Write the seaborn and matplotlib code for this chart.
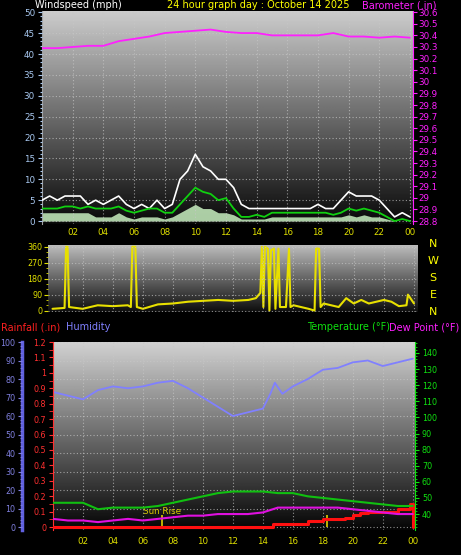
import numpy as np
import matplotlib
matplotlib.use("Agg")
import matplotlib.pyplot as plt
from matplotlib.ticker import MultipleLocator, FixedLocator
import seaborn as sns

sns.set_style("dark")
plt.rcParams['font.family'] = ['DejaVu Sans']

# ---------------- data ----------------
wind_t = [i * 0.5 for i in range(49)]
gust = [5, 6, 5, 6, 6, 6, 4, 5, 4, 5, 6, 4, 3, 4, 3, 5, 3, 4, 10, 12, 16, 13, 12, 10, 10, 8, 4, 3, 3, 3, 3, 3, 3, 3, 3, 3, 4, 3, 3, 5, 7, 6, 6, 6, 5, 3, 1, 2, 1]
avg = [3, 3, 3, 3.5, 3.5, 3, 3.5, 3, 3, 3, 3.5, 2.5, 2, 2.5, 3, 3, 2, 2, 4, 6, 8, 7, 6.5, 5, 5.5, 3, 1, 1, 1.5, 1, 2, 2, 2, 2, 2, 2, 2, 2, 1.5, 2, 3, 2.5, 3, 2.5, 2, 1, 0, 0.5, 0]
lull = [2, 2, 2, 2, 2, 2, 2, 1, 1, 1, 2, 1, 0.5, 1, 1, 1, 0.5, 1, 2, 3, 4, 3, 3, 2, 2, 1.5, 0.5, 0.5, 0.5, 0.5, 1, 1, 1, 1, 1, 1, 1, 1, 1, 1, 1.5, 1, 1.5, 1, 1, 0.5, 0, 0, 0]

baro_t = list(range(25))
baro = [30.29, 30.29, 30.30, 30.31, 30.31, 30.35, 30.37, 30.39, 30.42, 30.43, 30.44, 30.45, 30.43, 30.42, 30.42, 30.40, 30.40, 30.40, 30.40, 30.42, 30.39, 30.39, 30.38, 30.39, 30.38]

dir_t = [0, 0.8, 0.9, 1.0, 1.1, 2, 3, 4, 5, 5.2, 5.3, 5.5, 5.6, 6, 7, 8, 9, 10, 11, 12, 13, 13.5, 13.8, 13.9, 14.0, 14.1, 14.3, 14.4, 14.5, 14.7, 14.8, 15.0, 15.1, 15.5, 15.7, 15.8, 16, 17, 17.4, 17.5, 17.7, 17.8, 18, 19, 19.5, 20, 20.5, 21, 22, 22.5, 23, 23.5, 23.6, 24]
dir_v = [10, 15, 360, 360, 20, 10, 30, 25, 30, 20, 360, 360, 20, 10, 35, 40, 50, 55, 60, 55, 60, 70, 100, 360, 20, 360, 350, 0, 340, 350, 10, 350, 20, 20, 350, 20, 30, 10, 0, 350, 350, 20, 40, 20, 70, 40, 60, 40, 60, 50, 25, 30, 90, 40]

hum_t = [0, 1, 2, 3, 4, 5, 6, 7, 8, 9, 10, 11, 12, 13, 14, 14.5, 14.8, 15.3, 16, 17, 18, 19, 20, 21, 22, 23, 24]
hum = [73, 71, 69, 74, 76, 75, 76, 78, 79, 75, 70, 65, 60, 62, 64, 72, 78, 72, 76, 80, 85, 86, 89, 90, 87, 89, 91]

th_t = list(range(25))
temp = [47, 47, 47, 43, 44, 44, 44, 45, 47, 49, 51, 53, 54, 54, 54, 53, 53, 51, 50, 49, 48, 47, 46, 45, 45]
dew = [37, 36, 36, 35, 36, 37, 36, 37, 38, 39, 39, 40, 40, 40, 41, 44, 44, 44, 44, 44, 43, 42, 41, 40, 40]

rain_t = [0, 14.7, 16, 17, 18, 19, 19.5, 20, 20.5, 21, 22, 23, 23.8, 23.95, 24]
rain = [0, 0.02, 0.02, 0.04, 0.05, 0.05, 0.06, 0.08, 0.09, 0.10, 0.10, 0.12, 0.15, 0.15, 0]

hour_ticks = [2, 4, 6, 8, 10, 12, 14, 16, 18, 20, 22, 24]
hour_labels = ["02", "04", "06", "08", "10", "12", "14", "16", "18", "20", "22", "00"]

W, H = 461, 555
fig = plt.figure(figsize=(W / 100, H / 100), dpi=100, facecolor="black")


def add_ax(x0, y0, x1, y1):
    return fig.add_axes([x0 / W, 1 - y1 / H, (x1 - x0) / W, (y1 - y0) / H])


def background(ax, top=0.8, bot=0.03):
    g = np.linspace(top, bot, 256).reshape(-1, 1)
    ax.imshow(g, cmap="gray", vmin=0, vmax=1, extent=[0, 1, 0, 1], transform=ax.transAxes,
              aspect="auto", zorder=0, interpolation="bilinear")


def grid(ax):
    ax.grid(True, color="#c8c8c8", linestyle=(0, (1, 2)), linewidth=0.8, alpha=0.7)
    ax.set_axisbelow(False)


def style(ax):
    ax.set_facecolor("black")
    for s in ax.spines.values():
        s.set_visible(False)
    ax.set_xlabel("")
    ax.set_ylabel("")


FS = 6.3
HF = 7

# ---------------- top panel ----------------
ax1 = add_ax(42, 11, 413, 224)
style(ax1)
background(ax1)
ax1.set_xlim(0, 24.2)
ax1.set_ylim(-0.7, 50.3)
ax1.fill_between(wind_t, 0, lull, color="#c8f0c0", alpha=0.85, zorder=2, linewidth=0)
sns.lineplot(x=wind_t, y=gust, ax=ax1, color="white", linewidth=1.2, zorder=3)
sns.lineplot(x=wind_t, y=avg, ax=ax1, color="#10d010", linewidth=1.3, zorder=4)
ax1.yaxis.set_major_locator(MultipleLocator(5))
ax1.yaxis.set_minor_locator(MultipleLocator(1))
ax1.xaxis.set_major_locator(FixedLocator(hour_ticks))
ax1.set_xticklabels(hour_labels)
ax1.tick_params(axis="y", colors="#a8c8f0", labelsize=FS, length=3, width=0.8, pad=2, which="both", left=True)
ax1.tick_params(axis="y", which="minor", length=1.5)
ax1.tick_params(axis="x", colors="#e0e000", labelsize=FS, length=0, pad=3, bottom=True)
ax1.spines["left"].set_visible(True)
ax1.spines["left"].set_color("#a0a0a0")
grid(ax1)

ax1b = ax1.twinx()
style(ax1b)
ax1b.set_ylim(28.8 - 0.025, 30.6 + 0.01)
sns.lineplot(x=baro_t, y=baro, ax=ax1b, color="#ff20ff", linewidth=1.3)
ax1b.set_yticks([round(28.8 + 0.1 * i, 1) for i in range(19)])
ax1b.set_yticklabels([("%g" % round(28.8 + 0.1 * i, 1)) for i in range(19)])
ax1b.tick_params(axis="y", colors="#ff20ff", labelsize=FS, length=3, pad=1)
ax1b.spines["right"].set_visible(True)
ax1b.spines["right"].set_color("#ff20ff")
ax1b.grid(False)

fig.text(35 / W, 1 - 5 / H, "Windspeed (mph)", color="white", fontsize=HF, va="center")
fig.text(258 / W, 1 - 5 / H, "24 hour graph day : October 14 2025", color="#ffff00", fontsize=HF, va="center", ha="center")
fig.text(436 / W, 1 - 5 / H, "Barometer (.in)", color="#ff20ff", fontsize=HF, va="center", ha="right")

# ---------------- middle panel ----------------
ax2 = add_ax(48, 245, 417, 312)
style(ax2)
background(ax2, 0.75, 0.05)
ax2.set_xlim(-0.3, 24.2)
ax2.set_ylim(-8, 370)
sns.lineplot(x=dir_t, y=dir_v, ax=ax2, color="#e8e000", linewidth=1.5)
ax2.set_yticks([0, 90, 180, 270, 360])
ax2.yaxis.set_minor_locator(MultipleLocator(30))
ax2.xaxis.set_major_locator(FixedLocator(hour_ticks))
ax2.set_xticklabels([])
ax2.tick_params(axis="y", colors="#e0e000", labelsize=FS - 0.5, length=3, pad=1, which="both", left=True)
ax2.tick_params(axis="y", which="minor", length=1.5)
ax2.tick_params(axis="x", length=0)
grid(ax2)
for i, lab in enumerate(["N", "W", "S", "E", "N"]):
    fig.text(433 / W, 1 - (244 + i * 17) / H, lab, color="#ffff00", fontsize=8, ha="center", va="center")

# ---------------- bottom panel ----------------
ax3 = add_ax(53, 342, 415, 530)
style(ax3)
background(ax3, 0.82, 0.02)
ax3.set_xlim(0, 24.15)
ax3.set_ylim(-1.6, 100)
sns.lineplot(x=hum_t, y=hum, ax=ax3, color="#8080ff", linewidth=1.3, zorder=3)
ax3.set_yticks(range(0, 101, 10))
ax3.yaxis.set_minor_locator(MultipleLocator(2))
ax3.xaxis.set_major_locator(FixedLocator(hour_ticks))
ax3.set_xticklabels(hour_labels)
ax3.tick_params(axis="x", colors="#e0e000", labelsize=FS, length=0, pad=5, bottom=True)
ax3.spines["left"].set_visible(True)
ax3.spines["left"].set_position(("outward", 22))
ax3.spines["left"].set_color("#6060e0")
ax3.spines["left"].set_linewidth(2.5)
ax3.tick_params(axis="y", colors="#8080e0", labelsize=FS - 0.5, length=3, pad=2, which="both", left=True)
ax3.tick_params(axis="y", which="minor", length=1.5)
grid(ax3)

axr = ax3.twinx()
style(axr)
axr.set_ylim(-0.019, 1.2)
axr.yaxis.set_ticks_position("left")
axr.spines["left"].set_visible(True)
axr.spines["left"].set_color("#ff3030")
axr.spines["left"].set_linestyle((0, (2, 1)))
axr.set_yticks([round(0.1 * i, 1) for i in range(13)])
axr.set_yticklabels(["%g" % round(0.1 * i, 1) for i in range(13)])
axr.yaxis.set_minor_locator(MultipleLocator(0.05))
axr.tick_params(axis="y", colors="#ff3030", labelsize=FS - 0.5, length=3, pad=2, which="both",
                left=True, right=False, labelleft=True, labelright=False)
axr.grid(False)
sns.lineplot(x=rain_t, y=rain, ax=axr, color="#ff1010", linewidth=2.2, drawstyle="steps-post", zorder=5)
for st in [7.3, 18.3]:
    axr.vlines(st, 0, 0.08, color="#d0c000", linewidth=1.3, zorder=4)
axr.text(7.3, 0.1, "Sun Rise", color="#d8c800", fontsize=FS, ha="center", va="center")

axt = ax3.twinx()
style(axt)
axt.set_ylim(30.1, 146.8)
sns.lineplot(x=th_t, y=temp, ax=axt, color="#10c010", linewidth=1.5, zorder=4)
sns.lineplot(x=th_t, y=dew, ax=axt, color="#e010e0", linewidth=1.5, zorder=4)
axt.set_yticks(range(40, 141, 10))
axt.yaxis.set_minor_locator(MultipleLocator(2))
axt.spines["right"].set_visible(True)
axt.spines["right"].set_color("#10e010")
axt.spines["right"].set_linestyle((0, (2, 1)))
axt.tick_params(axis="y", colors="#10e010", labelsize=FS - 0.5, length=3, pad=2, which="both")
axt.tick_params(axis="y", which="minor", length=1.5)
axt.grid(False)

fig.text(1 / W, 1 - 327 / H, "Rainfall (.in)", color="#ff2020", fontsize=HF, va="center")
fig.text(66 / W, 1 - 327 / H, "Humidity", color="#8080ff", fontsize=HF, va="center")
fig.text(390 / W, 1 - 327 / H, "Temperature (°F)", color="#10e010", fontsize=HF, va="center", ha="right")
fig.text(459 / W, 1 - 327 / H, "Dew Point (°F)", color="#ff20ff", fontsize=HF, va="center", ha="right")

fig.savefig("out.png", dpi=100, facecolor="black")
